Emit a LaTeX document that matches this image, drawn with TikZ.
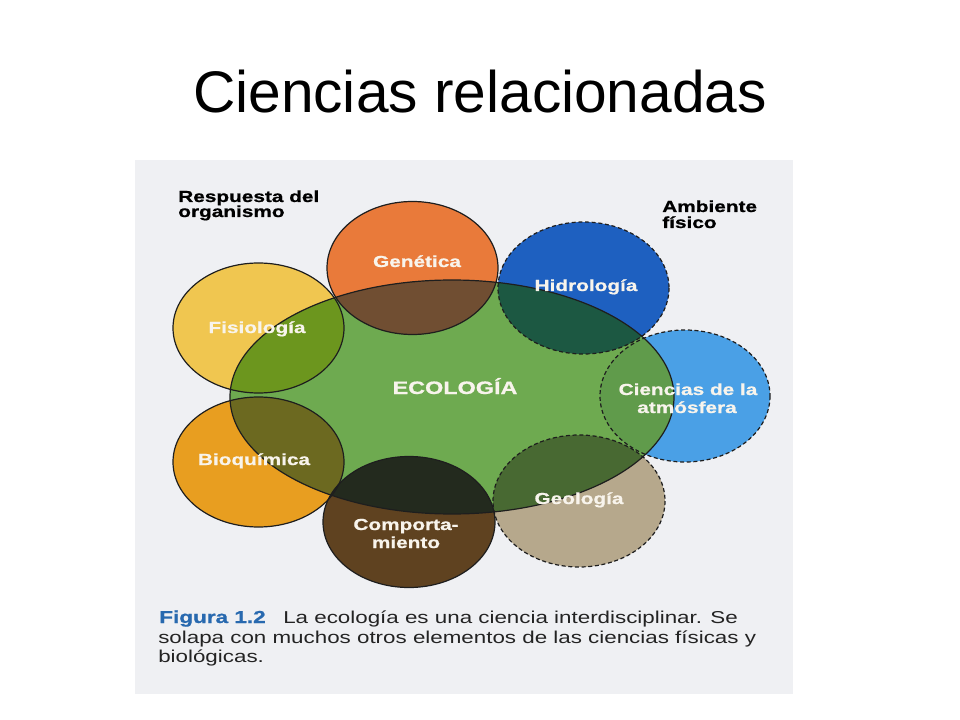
\documentclass[tikz,border=0pt]{standalone}
\usepackage{fontspec}
\setmainfont{Liberation Sans}
\newfontfamily\figfont[FakeStretch=1.3,BoldFeatures={FakeBold=0.8}]{Liberation Sans}
\definecolor{bgfig}{RGB}{239,240,243}
\definecolor{genc}{RGB}{233,122,58}
\definecolor{genx}{RGB}{112,78,50}
\definecolor{fisc}{RGB}{240,198,80}
\definecolor{fisx}{RGB}{108,150,30}
\definecolor{bioc}{RGB}{232,158,32}
\definecolor{biox}{RGB}{108,105,32}
\definecolor{comc}{RGB}{95,66,32}
\definecolor{comx}{RGB}{35,42,30}
\definecolor{geoc}{RGB}{182,168,140}
\definecolor{geox}{RGB}{72,105,50}
\definecolor{hidc}{RGB}{30,96,192}
\definecolor{hidx}{RGB}{28,88,66}
\definecolor{atmc}{RGB}{74,160,230}
\definecolor{atmx}{RGB}{96,155,75}
\definecolor{ecoc}{RGB}{110,170,80}
\definecolor{linec}{RGB}{30,30,30}
\definecolor{capc}{RGB}{35,35,35}
\definecolor{figblue}{RGB}{40,105,175}
\definecolor{lblc}{RGB}{248,244,236}
\tikzset{
  solidline/.style={draw=linec,line width=0.9pt},
  dashline/.style={draw=linec,line width=0.9pt,dash pattern=on 3pt off 2pt},
  lbl/.style={text=lblc,font=\figfont\bfseries\fontsize{12}{14}\selectfont,inner sep=0pt,anchor=base},
  head/.style={text=black,font=\figfont\bfseries\fontsize{12}{14}\selectfont,inner sep=0pt,anchor=base west},
  captxt/.style={text=capc,font=\figfont\fontsize{12.9}{15}\selectfont,inner sep=0pt,anchor=base west},
}
\begin{document}
\begin{tikzpicture}[x=0.75pt,y=-0.75pt]
\useasboundingbox (0,0) rectangle (960,720);
\fill[white] (0,0) rectangle (960,720);
\fill[bgfig] (135,160) rectangle (793,694);
% title
\node[inner sep=0pt,anchor=base,font=\fontsize{44}{50}\selectfont] (title) at (480,113) {Ciencias relacionadas};
% outer fills
\def\gen{(412.5,268) ellipse [x radius=85.5,y radius=66.5]}
\def\hid{(583.5,288) ellipse [x radius=85.5,y radius=66]}
\def\fis{(258.5,328) ellipse [x radius=85.5,y radius=65]}
\def\atm{(685,396) ellipse [x radius=85,y radius=66]}
\def\bio{(258.5,462) ellipse [x radius=85.5,y radius=65]}
\def\com{(409,522) ellipse [x radius=86,y radius=65.5]}
\def\geo{(579,501) ellipse [x radius=86,y radius=66]}
\def\eco{(452,397) ellipse [x radius=222,y radius=117]}
\fill[genc] \gen;
\fill[hidc] \hid;
\fill[fisc] \fis;
\fill[atmc] \atm;
\fill[bioc] \bio;
\fill[comc] \com;
\fill[geoc] \geo;
\fill[ecoc] \eco;
\begin{scope}
  \clip \eco;
  \fill[genx] \gen;
  \fill[hidx] \hid;
  \fill[fisx] \fis;
  \fill[atmx] \atm;
  \fill[biox] \bio;
  \fill[comx] \com;
  \fill[geox] \geo;
\end{scope}
% outlines
\path[solidline] \gen;
\path[solidline] \fis;
\path[solidline] \bio;
\path[solidline] \com;
\path[dashline] \hid;
\path[dashline] \atm;
\path[dashline] \geo;
\path[solidline] \eco;
% labels
\node[lbl] (lgen) at (417,267) {Genética};
\node[lbl] (lhid) at (586,291) {Hidrología};
\node[lbl] (lfis) at (257,333) {Fisiología};
\node[lbl] (lbio) at (254,465) {Bioquímica};
\node[lbl] (lcom1) at (406,530) {Comporta-};
\node[lbl] (lcom2) at (406,548) {miento};
\node[lbl] (lgeo) at (579,504) {Geología};
\node[lbl] (latm1) at (688,395) {Ciencias de la};
\node[lbl] (latm2) at (687,413) {atmósfera};
\node[lbl,font=\figfont\bfseries\fontsize{13.5}{15}\selectfont] (leco) at (455,394) {ECOLOGÍA};
\node[head] (resp1) at (178,202) {Respuesta del};
\node[head] (resp2) at (178,217) {organismo};
\node[head] (amb1) at (662,212) {Ambiente};
\node[head] (amb2) at (662,228) {físico};
% caption
\node[captxt,text=figblue,font=\figfont\bfseries\fontsize{13}{15}\selectfont] (fig) at (159,623) {Figura 1.2};
\node[captxt] (cap1) at (283,623) {La ecología es una ciencia interdisciplinar. Se};
\node[captxt] (cap2) at (158,643) {solapa con muchos otros elementos de las ciencias físicas y};
\node[captxt] (cap3) at (158,662) {biológicas.};
\end{tikzpicture}
\end{document}
